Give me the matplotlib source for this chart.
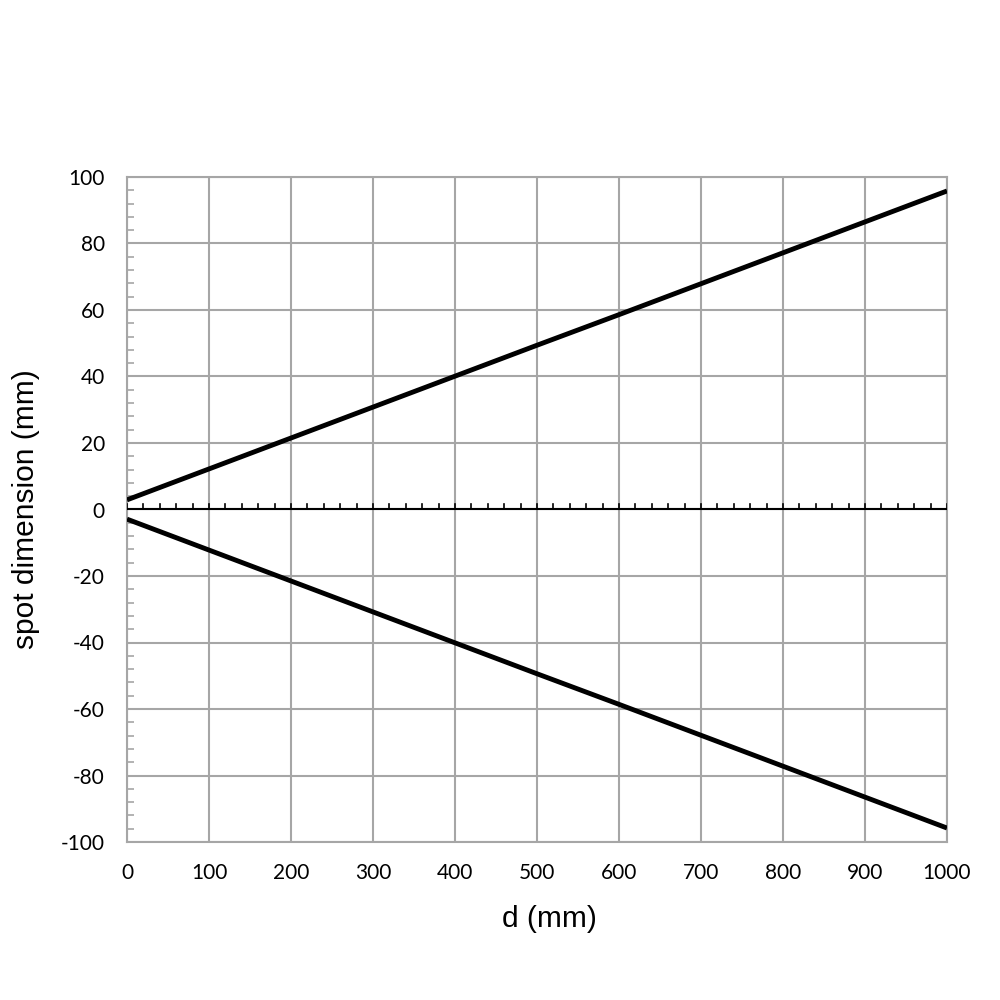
import matplotlib
matplotlib.use('Agg')
import matplotlib.pyplot as plt
from matplotlib.ticker import MultipleLocator

# distance along the beam (mm) and spot half-size (mm)
d_mm = [0, 100, 200, 300, 400, 500, 600, 700, 800, 900, 1000]
upper = [2.9, 12.2, 21.5, 30.8, 40.1, 49.4, 58.6, 67.9, 77.2, 86.5, 95.8]
lower = [-v for v in upper]

x_ticks = [0, 100, 200, 300, 400, 500, 600, 700, 800, 900, 1000]
y_ticks = [-100, -80, -60, -40, -20, 0, 20, 40, 60, 80, 100]

grid_col = '#a6a6a6'

fig = plt.figure(figsize=(10, 10), dpi=100)
ax = fig.add_axes([0.127, 0.158, 0.820, 0.665])

ax.plot(d_mm, upper, color='black', lw=3.5, solid_capstyle='butt', zorder=4)
ax.plot(d_mm, lower, color='black', lw=3.5, solid_capstyle='butt', zorder=4)

ax.set_xlim(0, 1000)
ax.set_ylim(-100, 100)
ax.set_xticks(x_ticks)
ax.set_yticks(y_ticks)
ax.set_xticklabels([str(t) for t in x_ticks], family='Lato', fontsize=15)
ax.set_yticklabels([str(t) for t in y_ticks], family='Lato', fontsize=15)
ax.yaxis.set_minor_locator(MultipleLocator(4))

ax.grid(True, which='major', color=grid_col, lw=1.5, zorder=1)
for s in ax.spines.values():
    s.set_color(grid_col)
    s.set_linewidth(1.5)

ax.tick_params(axis='x', which='major', length=0, pad=15)
ax.tick_params(axis='y', which='major', length=0, pad=16)
ax.tick_params(axis='y', which='minor', direction='in', length=5, color=grid_col, width=1.2)

# black horizontal axis through zero with upward ticks
ax.axhline(0, color='black', lw=1.5, zorder=3)
for xv in range(0, 1001, 20):
    ax.plot([xv, xv], [0, 1.6], color='black', lw=1.2, zorder=3)

ax.set_xlabel('d (mm)', family='Liberation Sans', fontsize=21.5, labelpad=16)
ax.xaxis.label.set_x(0.515)
ax.set_ylabel('spot dimension (mm)', family='Liberation Sans', fontsize=21.5, labelpad=15)

fig.savefig('out.png', dpi=100)
